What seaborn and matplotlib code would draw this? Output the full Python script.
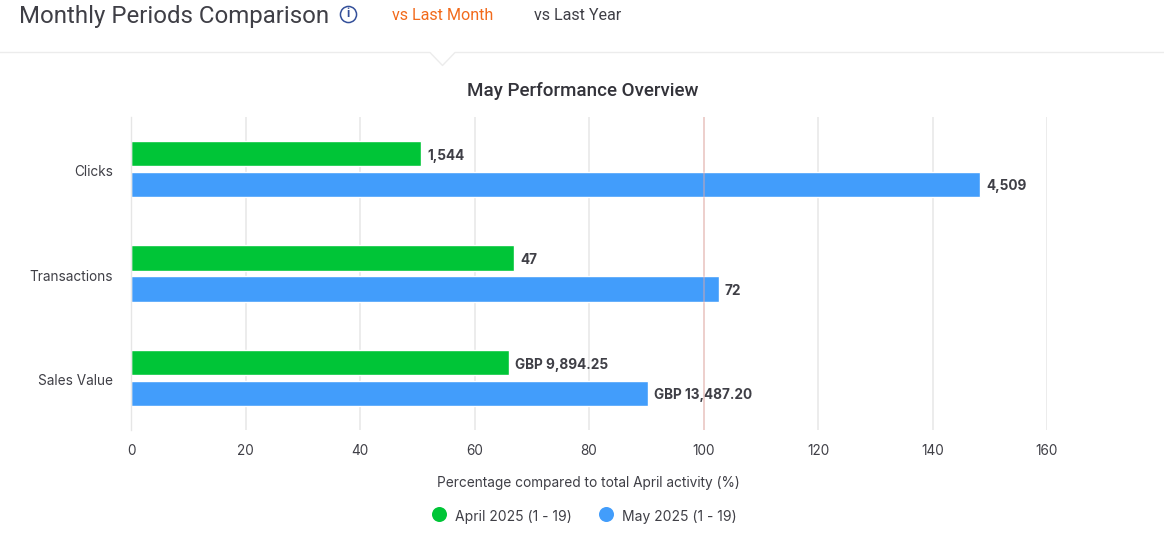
import matplotlib
matplotlib.use("Agg")
import matplotlib.pyplot as plt
from matplotlib.lines import Line2D
from matplotlib.transforms import ScaledTranslation
import pandas as pd
import seaborn as sns

metrics = ["Clicks", "Transactions", "Sales Value"]
april_pct = [50.7, 66.9, 66.0]
may_pct = [148.3, 102.7, 90.3]
april_labels = ["1,544", "47", "GBP 9,894.25"]
may_labels = ["4,509", "72", "GBP 13,487.20"]
period_names = ["April 2025 (1 - 19)", "May 2025 (1 - 19)"]
x_ticks = [0, 20, 40, 60, 80, 100, 120, 140, 160]

GREEN = "#00c537"
BLUE = "#429dfb"
INK = "#3f3f46"
W, H = 1164, 541

sns.set_theme(style="white")
plt.rcParams["font.family"] = ["Inter", "DejaVu Sans"]

table = pd.DataFrame({
    "metric": metrics * 2,
    "period": [period_names[0]] * 3 + [period_names[1]] * 3,
    "pct": april_pct + may_pct,
})

fig = plt.figure(figsize=(W / 100, H / 100), dpi=100, facecolor="white")
ax = fig.add_axes([131 / W, 1 - 430.3 / H, (1047 - 131) / W, 313.5 / H])


def px(x, y):
    return x / W, 1 - y / H


ax.set_axisbelow(True)
ax.grid(axis="x", color="#ebebeb", linewidth=1.3)
sns.barplot(
    data=table, y="metric", x="pct", hue="period", order=metrics,
    hue_order=period_names, palette=[GREEN, BLUE], width=0.593, gap=0.17,
    saturation=1, legend=False, ax=ax,
)
ax.set_xlim(0, 160)
ax.set_ylim(2.5, -0.5)
ax.set_xticks(x_ticks)
ax.set_xlabel("")
ax.set_ylabel("")
for side in ("top", "right", "bottom"):
    ax.spines[side].set_visible(False)
ax.spines["left"].set_color("#e6e6e6")
ax.spines["left"].set_linewidth(1.0)
ax.tick_params(axis="x", length=0, pad=9.8, labelsize=9.8, labelcolor=INK)
ax.tick_params(axis="y", length=0, pad=13, labelsize=9.8, labelcolor=INK)

# Nudge the category names down a touch relative to their bars
nudge = ScaledTranslation(0, -1.2 / 72, fig.dpi_scale_trans)
for tick in ax.get_yticklabels():
    tick.set_transform(tick.get_transform() + nudge)

# Reference line at 100% sits above the bars
ax.axvline(100, color="#f0a8a0", alpha=0.42, linewidth=1.4, zorder=5)

for container, labels in zip(ax.containers, [april_labels, may_labels]):
    for note in ax.bar_label(container, labels=labels, padding=4.3, fontsize=9.8,
                             fontweight="bold", color=INK):
        x_off, y_off = note.xyann
        note.xyann = (x_off, y_off - 1.4)

# Page header above the chart
fig.text(*px(19, 16), "Monthly Periods Comparison", fontsize=17.3, color=INK,
         family="Roboto", va="center", ha="left")
fig.text(*px(392, 15.5), "vs Last Month", fontsize=11.6, color="#f26a1b",
         family="Roboto", va="center", ha="left")
fig.text(*px(534, 15.5), "vs Last Year", fontsize=11.6, color=INK,
         family="Roboto", va="center", ha="left")
fig.add_artist(Line2D([px(348, 0)[0]], [px(0, 14)[1]], marker="o", markersize=11.6,
                      markerfacecolor="white", markeredgecolor="#34509a",
                      markeredgewidth=1.1, transform=fig.transFigure))
fig.text(*px(348, 14), "i", fontsize=8.5, fontweight="bold", color="#34509a",
         va="center", ha="center")

# Divider with a small notch under the active tab
divider_x = [0, 430, 442.5, 455, W]
divider_y = [52.5, 52.5, 65.5, 52.5, 52.5]
fig.add_artist(Line2D([x / W for x in divider_x], [1 - y / H for y in divider_y],
                      color="#ececec", linewidth=1.0, transform=fig.transFigure))

fig.text(*px(582.5, 91.5), "May Performance Overview", fontsize=13.5, color="#33333a",
         family="Roboto", fontweight="medium", va="center", ha="center")
fig.text(*px(588.5, 482.5), "Percentage compared to total April activity (%)",
         fontsize=9.85, color=INK, va="center", ha="center")

# Legend entries
for x_dot, x_text, colour, name in [(438.5, 455, GREEN, period_names[0]),
                                    (605.5, 622, BLUE, period_names[1])]:
    fig.add_artist(Line2D([x_dot / W], [1 - 514 / H], marker="o", markersize=10.8,
                          markerfacecolor=colour, markeredgecolor=colour,
                          markeredgewidth=0, transform=fig.transFigure))
    fig.text(*px(x_text, 516.5), name, fontsize=10, color=INK, va="center", ha="left")

fig.savefig("out.png", dpi=100, facecolor="white")
